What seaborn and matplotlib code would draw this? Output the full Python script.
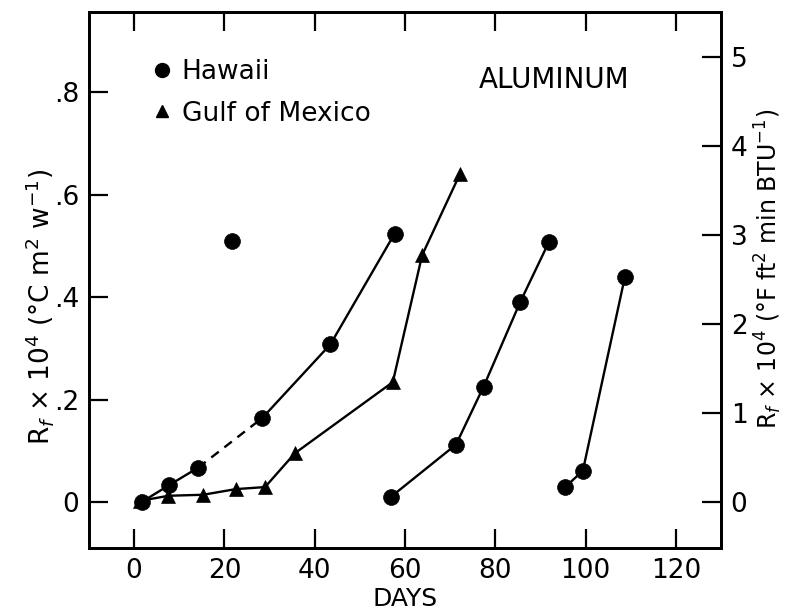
import matplotlib
matplotlib.use("Agg")
import matplotlib.pyplot as plt
from matplotlib.lines import Line2D
import seaborn as sns
import pandas as pd

# Fouling resistance of aluminum test sections vs. exposure time
hawaii_a_days = [1.7, 7.8, 14.2, 28.4, 43.5, 57.7]
hawaii_a_rf = [0.0, 0.033, 0.067, 0.164, 0.308, 0.524]
hawaii_a_dash_from = 2  # segment between these two points is dashed

hawaii_lone_days = [21.7]
hawaii_lone_rf = [0.509]

hawaii_b_days = [56.9, 71.3, 77.4, 85.5, 91.9]
hawaii_b_rf = [0.010, 0.112, 0.225, 0.390, 0.508]

hawaii_c_days = [95.5, 99.4, 108.7]
hawaii_c_rf = [0.029, 0.061, 0.439]

gulf_days = [1.3, 7.6, 15.3, 22.5, 29.0, 35.6, 57.3, 63.8, 72.2]
gulf_rf = [0.002, 0.012, 0.014, 0.025, 0.029, 0.095, 0.234, 0.482, 0.641]

x_ticks = [0, 20, 40, 60, 80, 100, 120]
left_ticks = [0, 0.2, 0.4, 0.6, 0.8]
left_tick_labels = ["0", ".2", ".4", ".6", ".8"]
right_ticks = [0, 1, 2, 3, 4, 5]
si_to_english = 5.75

sns.set_style("ticks")
plt.rcParams.update({
    "font.family": ["DejaVu Sans"],
    "mathtext.fontset": "dejavusans",
    "text.color": "black",
    "axes.labelcolor": "black",
    "axes.edgecolor": "black",
    "xtick.color": "black",
    "ytick.color": "black",
})

fig = plt.figure(figsize=(7.86, 6.14), dpi=100)
ax = fig.add_axes([0.1132, 0.1075, 0.8041, 0.873])

LW = 1.7
line_kw = dict(color="black", linewidth=LW, legend=False, ax=ax, sort=False)


def seg(days, vals, dashed=False):
    df = pd.DataFrame({"day": days, "rf": vals})
    ls = (0, (4, 3)) if dashed else "-"
    sns.lineplot(data=df, x="day", y="rf", linestyle=ls, **line_kw)


def pts(days, vals, marker, size):
    df = pd.DataFrame({"day": days, "rf": vals})
    sns.scatterplot(data=df, x="day", y="rf", marker=marker, s=size,
                    color="black", edgecolor="black", linewidth=0.5,
                    ax=ax, legend=False, zorder=5)


k = hawaii_a_dash_from
seg(hawaii_a_days[:k + 1], hawaii_a_rf[:k + 1])
seg(hawaii_a_days[k:k + 2], hawaii_a_rf[k:k + 2], dashed=True)
seg(hawaii_a_days[k + 1:], hawaii_a_rf[k + 1:])
seg(hawaii_b_days, hawaii_b_rf)
seg(hawaii_c_days, hawaii_c_rf)
seg(gulf_days, gulf_rf)

circle_s = 130
tri_s = 100
pts(hawaii_a_days, hawaii_a_rf, "o", circle_s)
pts(hawaii_lone_days, hawaii_lone_rf, "o", circle_s)
pts(hawaii_b_days, hawaii_b_rf, "o", circle_s)
pts(hawaii_c_days, hawaii_c_rf, "o", circle_s)
pts(gulf_days, gulf_rf, "^", tri_s)

ax.set_xlim(-10, 130)
ax.set_ylim(-0.09, 0.957)
ax.set_xticks(x_ticks)
ax.set_yticks(left_ticks)
ax.set_yticklabels(left_tick_labels)

FS = 19
ax.tick_params(axis="both", direction="in", length=14, width=1.6,
               labelsize=FS, top=True, right=False, pad=7)
ax.set_xlabel("DAYS", fontsize=18)
ax.xaxis.set_label_coords(0.5, -0.072)
ax.set_ylabel(r"R$_f$ × 10$^4$ (°C m$^2$ w$^{-1}$)", fontsize=FS)
ax.yaxis.set_label_coords(-0.052, 0.45)
for sp in ax.spines.values():
    sp.set_linewidth(2.0)

ax2 = ax.twinx()
ax2.set_ylim(-0.09 * si_to_english, 0.957 * si_to_english)
ax2.set_yticks(right_ticks)
ax2.tick_params(axis="y", direction="in", length=14, width=1.6,
                labelsize=FS, pad=7)
ax2.set_ylabel(r"R$_f$ × 10$^4$ (°F ft$^2$ min BTU$^{-1}$)", fontsize=17)
ax2.yaxis.set_label_coords(1.05, 0.52)
for sp in ax2.spines.values():
    sp.set_linewidth(2.0)

handles = [
    Line2D([], [], marker="o", linestyle="none", color="black", markersize=10),
    Line2D([], [], marker="^", linestyle="none", color="black", markersize=9),
]
ax.legend(handles, ["Hawaii", "Gulf of Mexico"], loc="upper left",
          bbox_to_anchor=(0.065, 0.957), frameon=False, fontsize=FS,
          handlelength=0.6, handletextpad=0.45, labelspacing=0.6)

ax.text(0.617, 0.873, "ALUMINUM", transform=ax.transAxes, fontsize=20,
        ha="left", va="center")

fig.savefig("out.png", dpi=100)
